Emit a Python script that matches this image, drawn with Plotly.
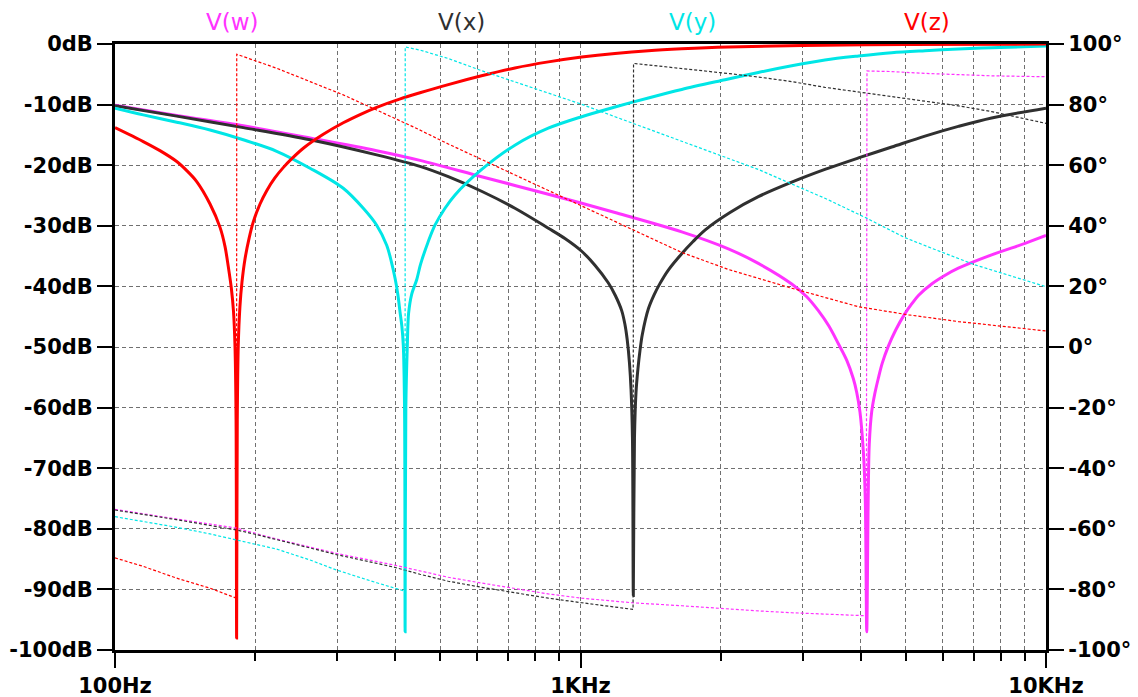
import plotly.graph_objects as go

# ---------------- data ----------------
# V(w): magnitude (dB) and phase (deg) versus frequency (Hz)
w_mag_f = [100, 135.7, 188.6, 262.4, 364.9, 452, 613, 853, 1186, 1650, 2078, 2410, 2843, 3062, 3243, 3414, 3583,
           3733, 3855, 3921, 3984, 4052, 4090, 4120, 4150, 4172, 4222, 4285, 4362, 4447, 4583, 4755, 4977, 5146,
           5320, 5680, 6060, 6481, 7642, 9016, 10000]
w_mag_db = [-10.1, -11.8, -13.5, -15.5, -17.6, -19.2, -21.9, -24.8, -27.8, -31.0, -33.8, -36.2, -39.6, -41.7, -44.0,
            -46.5, -49.5, -52.2, -55.2, -57.5, -60.7, -67.3, -75.0, -97.0, -75.0, -66.0, -60.7, -57.8, -55.2, -52.7,
            -49.9, -47.2, -44.5, -42.9, -41.5, -39.6, -38.2, -37.0, -34.8, -32.9, -31.6]
w_ph_f = [100, 135.7, 182.5, 222.5, 299, 396, 452, 520, 613, 723, 853, 1006, 1288, 1650, 2094, 2410, 2843, 3350,
          4110, 4125, 4662, 5496, 6481, 7642, 10000]
w_ph_deg = [-53.6, -56.7, -59.8, -63.4, -68.1, -71.9, -74.0, -76.0, -77.9, -79.8, -81.5, -82.9, -84.4, -85.4, -86.6,
            -87.1, -87.7, -88.2, -88.7, 91.1, 90.9, 90.3, 89.8, 89.5, 89.2]

# V(x)
x_mag_f = [100, 135.7, 188.6, 262.4, 364.9, 452, 520, 613, 723, 853, 926, 1006, 1074, 1147, 1188, 1226, 1246, 1260,
           1274, 1284, 1293, 1298.6, 1306, 1316, 1329, 1342, 1358, 1399, 1439, 1482, 1544, 1650, 1745, 1851, 2095,
           2410, 2843, 3350, 3954, 4662, 5496, 6481, 7642, 10000]
x_mag_db = [-10.2, -11.9, -13.8, -15.8, -18.3, -20.2, -21.9, -24.3, -27.1, -30.4, -32.1, -34.2, -36.5, -39.4, -41.5,
            -44.0, -46.3, -48.8, -52.6, -57.0, -65.0, -91.0, -65.0, -57.5, -53.5, -50.6, -47.9, -43.7, -41.4, -39.5,
            -37.3, -34.6, -32.6, -30.7, -27.8, -25.2, -22.8, -20.7, -18.8, -17.0, -15.2, -13.6, -12.2, -10.6]
x_ph_f = [100, 135.7, 182.5, 200, 299, 396, 452, 520, 613, 723, 853, 1006, 1297, 1300, 1650, 2094, 2410, 2843,
          3350, 3954, 4662, 5496, 6481, 7642, 8550, 10000]
x_ph_deg = [-53.8, -57.0, -60.4, -61.8, -68.5, -72.6, -75.0, -77.3, -79.3, -81.2, -82.9, -84.4, -86.6, 93.6, 92.0, 90.2,
            89.1, 87.6, 85.7, 84.2, 82.6, 81.0, 79.6, 77.7, 76.0, 73.8]

# V(y)
y_mag_f = [100, 115, 135.7, 160, 188.6, 222.5, 262.4, 309.3, 341.5, 364.9, 383.4, 392.3, 399.7, 405.1, 409.5, 413.2,
           416.2, 418.8, 420, 421.5, 424.6, 427.2, 433.8, 444.7, 452, 456, 470.4, 486.8, 511.6, 537.6, 613.5, 722.8,
           852.7, 1006, 1186, 1399, 1650, 2044, 2410, 2843, 3350, 3954, 4662, 5496, 6481, 7642, 10000]
y_mag_db = [-10.6, -11.7, -12.9, -14.2, -15.8, -17.7, -20.5, -23.8, -27.1, -29.9, -33.2, -35.9, -38.7, -41.3, -44.2,
            -46.5, -49.7, -60.0, -97.0, -60.0, -49.7, -44.5, -41.3, -38.9, -36.7, -35.7, -32.7, -29.9, -27.1, -24.9,
            -20.7, -16.7, -13.9, -12.0, -10.4, -8.9, -7.5, -5.9, -4.7, -3.6, -2.64, -1.98, -1.43, -1.1, -0.83, -0.61,
            -0.33]
y_ph_f = [100, 115, 135.7, 160, 182.5, 222.5, 262.4, 299, 364.9, 409.5, 419.8, 420.2, 452, 520, 613, 723, 853, 1006,
          1186, 1399, 1650, 2078, 2410, 2843, 3350, 4083, 4977, 5680, 7040, 10000]
y_ph_deg = [-56.0, -57.5, -59.5, -61.7, -63.7, -66.7, -70.3, -73.6, -77.8, -80.2, -80.6, 99.0, 98.0, 95.2, 91.2, 87.5,
            83.8, 80.1, 76.0, 72.0, 67.9, 62.3, 58.6, 53.8, 49.1, 42.8, 36.1, 32.6, 27.1, 19.9]

# V(z)
z_mag_f = [100, 115, 124.9, 135.7, 142.6, 149.8, 160, 168.2, 172.3, 175.1, 177.8, 179.7, 181.1, 182.0, 182.5, 183.1,
           184.0, 185.5, 187.4, 190.3, 194.2, 198.1, 204.9, 211.8, 220.5, 229.8, 240.7, 253.8, 280.2, 309.3, 337,
           364.9, 410, 452, 520, 613, 723, 853, 1006, 1186, 1399, 1650, 2078, 3000, 5000, 10000]
z_mag_db = [-13.8, -16.1, -17.6, -19.4, -20.9, -22.7, -26.4, -30.3, -33.4, -36.7, -40.3, -44.1, -50.3, -62.0, -98.0,
            -62.0, -49.7, -43.4, -39.3, -35.4, -32.0, -29.4, -26.4, -24.2, -22.1, -20.4, -18.8, -17.2, -14.9, -13.0,
            -11.6, -10.45, -9.05, -8.05, -6.7, -5.25, -3.95, -2.95, -2.15, -1.55, -1.1, -0.8, -0.5, -0.25, -0.08, -0.02]
z_ph_f = [100, 115, 135.7, 160, 182.4, 182.6, 198.2, 222.5, 262.4, 309.3, 364.9, 441, 520, 613, 723, 853, 1006, 1186,
          1399, 1650, 2078, 2843, 3954, 5070, 6481, 10000]
z_ph_deg = [-69.6, -72.4, -76.3, -79.6, -82.9, 96.6, 94.7, 92.0, 87.6, 83.2, 78.2, 72.4, 67.0, 61.9, 56.8, 51.6, 46.4,
            41.3, 36.4, 31.2, 25.6, 19.4, 13.3, 10.6, 8.4, 5.3]

series_names = ["V(w)", "V(x)", "V(y)", "V(z)"]
series_colors = ["#FF33FF", "#303030", "#00E6E6", "#FF0000"]

db_ticks = [0, -10, -20, -30, -40, -50, -60, -70, -80, -90, -100]
db_labels = ["0dB", "-10dB", "-20dB", "-30dB", "-40dB", "-50dB", "-60dB", "-70dB", "-80dB", "-90dB", "-100dB"]
deg_ticks = [100, 80, 60, 40, 20, 0, -20, -40, -60, -80, -100]
deg_labels = ["100°", "80°", "60°", "40°", "20°", "0°", "-20°", "-40°", "-60°", "-80°", "-100°"]
freq_ticks = [100, 1000, 10000]
freq_labels = ["100Hz", "1KHz", "10KHz"]
freq_minor = [200, 300, 400, 500, 600, 700, 800, 900, 2000, 3000, 4000, 5000, 6000, 7000, 8000, 9000]

mags = [(w_mag_f, w_mag_db), (x_mag_f, x_mag_db), (y_mag_f, y_mag_db), (z_mag_f, z_mag_db)]
phases = [(w_ph_f, w_ph_deg), (x_ph_f, x_ph_deg), (y_ph_f, y_ph_deg), (z_ph_f, z_ph_deg)]

# ---------------- figure ----------------
fig = go.Figure()
for (f, p), name, col in zip(phases, series_names, series_colors):
    fig.add_trace(go.Scatter(x=f, y=p, yaxis="y2", mode="lines", name=name + " phase",
                             line=dict(color=col, width=1.2, dash="3px,2px"), hoverinfo="skip"))
for (f, m), name, col in zip(mags, series_names, series_colors):
    fig.add_trace(go.Scatter(x=f, y=m, yaxis="y", mode="lines", name=name,
                             line=dict(color=col, width=3, shape="spline", smoothing=0.9),
                             hoverinfo="skip"))

tickfont = dict(family="DejaVu Sans", size=21, color="black", weight="bold")
gridcol = "#707070"

fig.update_layout(
    width=1138, height=697,
    margin=dict(l=115, r=92, t=44, b=47, autoexpand=False),
    plot_bgcolor="white", paper_bgcolor="white",
    showlegend=False,
    xaxis=dict(type="log", range=[2, 4], tickvals=freq_ticks, ticktext=freq_labels,
               ticks="outside", ticklen=15, tickwidth=2, tickcolor="black",
               showline=True, linewidth=3, linecolor="black", mirror=True,
               showgrid=True, gridcolor=gridcol, griddash="4px,3px", gridwidth=1,
               zeroline=False, tickfont=tickfont, automargin=False,
               minor=dict(tickvals=freq_minor, ticks="outside", ticklen=8, tickwidth=2,
                          tickcolor="black", showgrid=True, gridcolor=gridcol,
                          griddash="4px,3px", gridwidth=1)),
    yaxis=dict(range=[-100, 0], tickvals=db_ticks, ticktext=db_labels,
               ticks="outside", ticklen=15, tickwidth=2, tickcolor="black",
               showline=True, linewidth=3, linecolor="black",
               showgrid=True, gridcolor=gridcol, griddash="4px,3px", gridwidth=1,
               zeroline=False, tickfont=tickfont, automargin=False),
    yaxis2=dict(range=[-100, 100], tickvals=deg_ticks, ticktext=deg_labels,
                overlaying="y", side="right",
                ticks="outside", ticklen=15, tickwidth=2, tickcolor="black",
                showline=True, linewidth=3, linecolor="black",
                showgrid=False, zeroline=False, tickfont=tickfont, automargin=False),
)

label_x = [0.1257, 0.3727, 0.6208, 0.8722]
for name, col, lx in zip(series_names, series_colors, label_x):
    fig.add_annotation(text=name, x=lx, y=1.036, xref="paper", yref="paper",
                       showarrow=False, xanchor="center", yanchor="middle",
                       font=dict(family="DejaVu Sans", size=23, color=col))

fig.write_html("out.html", config={"displayModeBar": False},
               post_script="document.body.style.margin='0px';document.body.style.overflow='hidden';")
